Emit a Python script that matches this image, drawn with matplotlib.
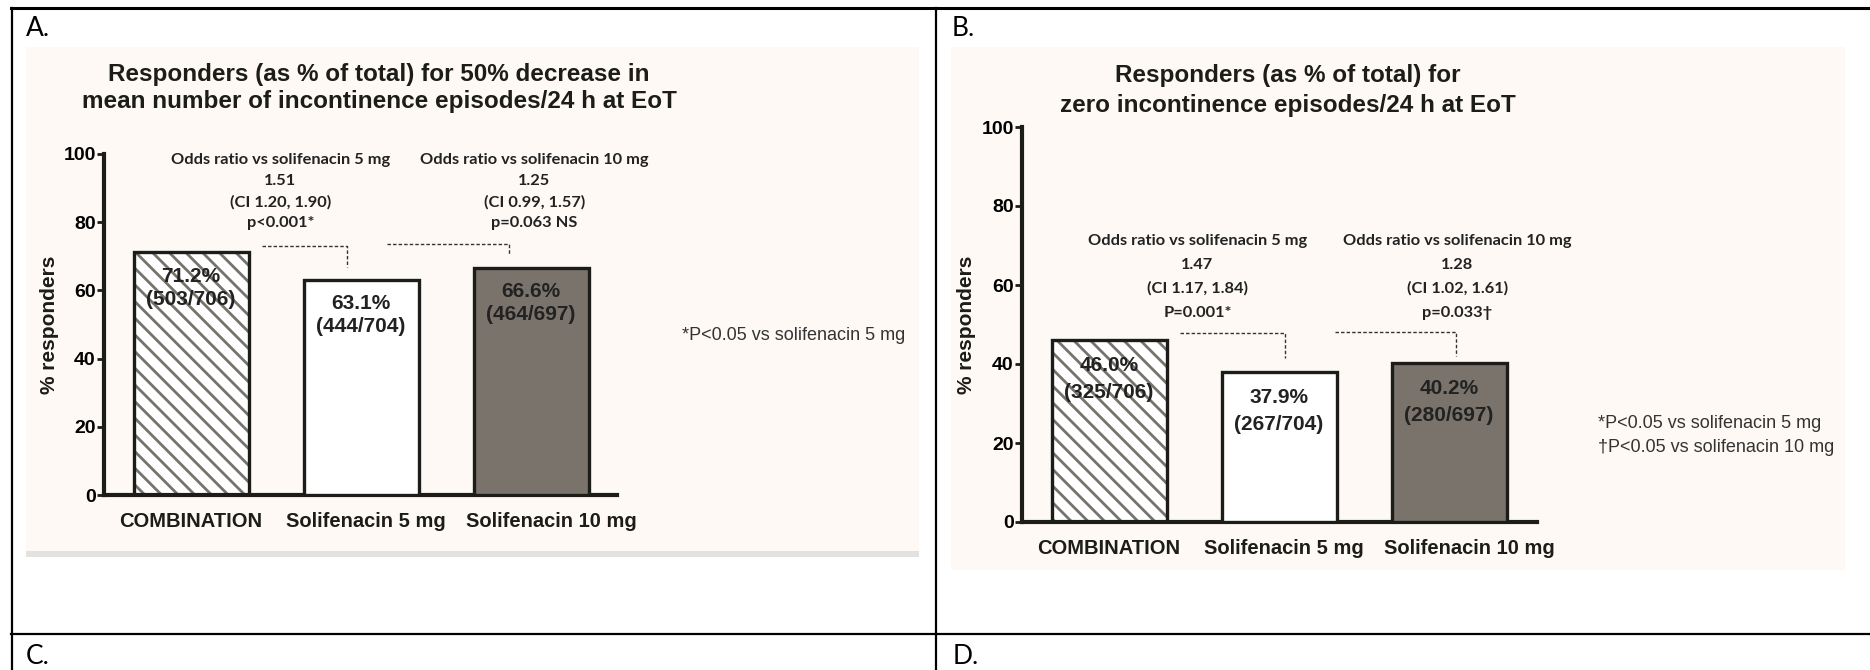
import matplotlib.pyplot as plt
from matplotlib.lines import Line2D
from matplotlib.patches import Rectangle

plt.rcParams['font.family'] = ['Liberation Sans', 'DejaVu Sans']
plt.rcParams['hatch.linewidth'] = 2.0

# data
groups = ['COMBINATION', 'Solifenacin 5 mg', 'Solifenacin 10 mg']
pct_a = [71.2, 63.1, 66.6]
counts_a = ['503/706', '444/704', '464/697']
pct_b = [46.0, 37.9, 40.2]
counts_b = ['325/706', '267/704', '280/697']
yticks = [0, 20, 40, 60, 80, 100]

title_a = 'Responders (as % of total) for 50% decrease in\nmean number of incontinence episodes/24 h at EoT'
title_b = 'Responders (as % of total) for\nzero incontinence episodes/24 h at EoT'
odds_a = [['Odds ratio vs solifenacin 5 mg', '1.51', '(CI 1.20, 1.90)', 'p<0.001*'],
          ['Odds ratio vs solifenacin 10 mg', '1.25', '(CI 0.99, 1.57)', 'p=0.063 NS']]
odds_b = [['Odds ratio vs solifenacin 5 mg', '1.47', '(CI 1.17, 1.84)', 'P=0.001*'],
          ['Odds ratio vs solifenacin 10 mg', '1.28', '(CI 1.02, 1.61)', 'p=0.033\u2020']]
notes_a = ['*P<0.05 vs solifenacin 5 mg']
notes_b = ['*P<0.05 vs solifenacin 5 mg', '\u2020P<0.05 vs solifenacin 10 mg']

W, H = 1870, 670
fig = plt.figure(figsize=(18.7, 6.7), dpi=100)

dark = '#1c1c18'
beige = '#fef9f4'
gray_fill = '#7a736b'
hatch_gray = '#77726c'
calibri = ['Lato', 'DejaVu Sans']


def fx(px):
    return px / W


def fy(py):
    return 1 - py / H


def line(x0, y0, x1, y1, lw=1.6):
    fig.add_artist(Line2D([fx(x0), fx(x1)], [fy(y0), fy(y1)], transform=fig.transFigure,
                          color='black', lw=lw))


def rect(x0, y0, x1, y1, color):
    fig.add_artist(Rectangle((fx(x0), fy(y1)), fx(x1 - x0), (y1 - y0) / H,
                             transform=fig.transFigure, facecolor=color, edgecolor='none', zorder=0))


# table frame
line(11, 8, 1870, 8, lw=2.2)
line(11.5, 8, 11.5, 670)
line(936, 8, 936, 670)
line(11, 634, 1870, 634)
for lab, x, y in [('A.', 26, 28), ('B.', 952, 28), ('C.', 26, 656), ('D.', 953, 656)]:
    fig.text(fx(x), fy(y), lab, fontsize=19, family=calibri, ha='left', va='center')

# panel backgrounds
rect(26, 47, 919, 551, beige)
rect(26, 551, 919, 557, '#e2e2e2')
rect(951, 47, 1845, 570, beige)


def panel(left, right, y0, y100, pcts, counts, title, tx, ty, tls, odds, odds_x, odds_y,
          dashes, lab_off, notes, nx, ny, nsp):
    ax = fig.add_axes([fx(left), fy(y0), fx(right - left), (y0 - y100) / H])
    ax.set_facecolor('none')
    xs = [0, 1, 2]
    span = right - left
    # bar centers: first bar ~87 px right of the spine, 170 px apart
    lo = -87 / 170
    ax.set_xlim(lo, lo + span / 170)
    ax.set_ylim(0, 100)
    w = 115 / 170
    ax.bar(xs[0], pcts[0], width=w, color='white', edgecolor=hatch_gray, hatch='\\\\',
           linewidth=0, zorder=2)
    ax.bar(xs, pcts, width=w, color=['none', 'white', gray_fill], edgecolor=dark,
           linewidth=2.4, zorder=3)
    for x, p, c in zip(xs, pcts, counts):
        ax.annotate(f'{p:.1f}%', (x, p), xytext=(0, lab_off[0]), textcoords='offset pixels',
                    ha='center', va='center', fontsize=15, fontweight='bold', color='#222', zorder=5)
        ax.annotate(f'({c})', (x, p), xytext=(0, lab_off[1]), textcoords='offset pixels',
                    ha='center', va='center', fontsize=15, fontweight='bold', color='#222', zorder=5)

    for s in ['top', 'right']:
        ax.spines[s].set_visible(False)
    for s in ['left', 'bottom']:
        ax.spines[s].set_linewidth(3)
        ax.spines[s].set_color(dark)
    ax.set_yticks(yticks)
    ax.tick_params(axis='y', length=5, width=2, color=dark, pad=1, labelsize=14)
    for t in ax.get_yticklabels():
        t.set_fontweight('bold')
    ax.set_xticks([0, 1.03, 2.12])
    ax.set_xticklabels(groups, fontsize=14.5, fontweight='bold', color=dark)
    ax.tick_params(axis='x', length=0, pad=12)
    ax.text(-0.107, 0.5, '% responders', transform=ax.transAxes, rotation=90, ha='center',
            va='center', fontsize=15, fontweight='bold', color=dark)

    # odds ratio annotations
    for block, ox in zip(odds, odds_x):
        for txt, oy in zip(block, odds_y):
            ax.text(ox, oy, txt, ha='center', va='center', fontsize=11.8, fontweight='bold',
                    family=calibri, color='#222')
    for xa, xb, yh, yv in dashes:
        ax.plot([xa, xb, xb], [yh, yh, yv], color='#333', lw=1.0, ls=(0, (2.5, 1.5)), zorder=4)

    fig.text(fx(tx), fy(ty), title, ha='center', va='center', fontsize=17.5, fontweight='bold',
             color=dark, linespacing=tls)
    for i, n in enumerate(notes):
        fig.text(fx(nx), fy(ny + i * nsp), n, ha='left', va='center', fontsize=13, color='#333')
    return ax


panel(104, 617, 495, 154, pct_a, counts_a, title_a, 379, 88, 1.23, odds_a,
      [0.526, 2.02], [98.2, 92.1, 85.9, 79.8],
      [(0.42, 0.92, 73.0, 66.9), (1.15, 1.87, 73.6, 70.4)], (-24, -47),
      notes_a, 682, 335, 24)

panel(1022, 1537, 522, 127, pct_b, counts_b, title_b, 1288, 90.5, 1.36, odds_b,
      [0.52, 2.05], [71.1, 65.1, 59.2, 52.9],
      [(0.42, 1.037, 47.8, 41.5), (1.33, 2.04, 48.1, 42.0)], (-25, -52),
      notes_b, 1598, 423, 24)

fig.savefig('out.png', dpi=100, facecolor='white')
